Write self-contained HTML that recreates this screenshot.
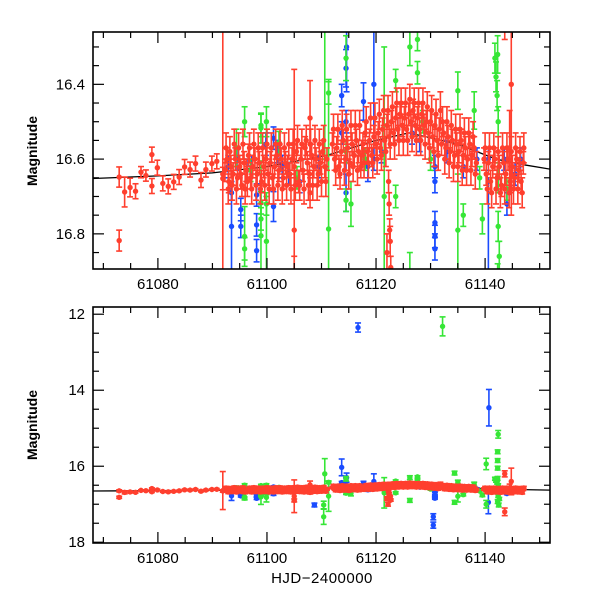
<!DOCTYPE html>
<html><head><meta charset="utf-8"><style>
body{margin:0;background:#fff}
svg{display:block}
text{font-family:"Liberation Sans",sans-serif;fill:#000}
</style></head><body>
<svg id="chart" width="600" height="600" viewBox="0 0 600 600" xmlns="http://www.w3.org/2000/svg">
<defs>
<clipPath id="clipTop"><rect x="93" y="32" width="457" height="237"/></clipPath>
<clipPath id="clipBot"><rect x="93" y="307" width="457" height="236"/></clipPath>
</defs>
<g id="topPanel"></g>
<g id="botPanel"></g>
<text x="0" y="0" font-size="14" font-weight="bold" text-anchor="middle" transform="translate(37,151) rotate(-90)">Magnitude</text>
<text x="0" y="0" font-size="14" font-weight="bold" text-anchor="middle" transform="translate(37,425) rotate(-90)">Magnitude</text>
<text x="322" y="583" font-size="15" text-anchor="middle" letter-spacing="0.5">HJD−2400000</text>
</svg>
<script>
// ---- data: [time, magnitude, error] ----
const redData = [
[61072.9,16.648,.027],[61072.9,16.818,.028],[61073.9,16.688,.04],[61074.9,16.676,.025],[61075.9,16.686,.02],
[61076.9,16.635,.015],[61077.8,16.644,.015],[61078.9,16.588,.02],[61078.9,16.672,.02],[61079.9,16.623,.02],
[61080.9,16.665,.02],[61081.9,16.673,.02],[61082.9,16.661,.02],[61083.9,16.648,.02],[61084.9,16.621,.02],
[61085.9,16.628,.02],[61086.9,16.612,.02],[61087.9,16.656,.02],[61088.8,16.628,.02],[61089.9,16.612,.02],
[61090.8,16.606,.02],[61091.9,16.64,.5],[61091.9,16.652,.03],
[61092.3,16.63,.03],[61092.7,16.60,.03],[61093.0,16.66,.03],[61093.4,16.62,.03],[61093.8,16.64,.03],
[61094.2,16.60,.03],[61094.6,16.65,.03],[61095.0,16.62,.03],[61095.4,16.67,.03],[61095.8,16.61,.03],
[61096.2,16.63,.03],[61096.6,16.59,.03],[61097.0,16.65,.03],[61097.4,16.62,.03],[61097.8,16.60,.03],
[61098.2,16.64,.03],[61098.6,16.61,.03],[61099.0,16.66,.03],[61099.4,16.62,.03],[61099.8,16.60,.03],
[61100.2,16.64,.03],[61100.6,16.61,.03],[61101.0,16.65,.03],[61101.4,16.62,.03],[61101.8,16.59,.03],
[61102.2,16.63,.03],[61102.6,16.60,.03],[61103.0,16.65,.03],[61103.4,16.61,.03],[61103.8,16.62,.03],
[61104.2,16.64,.03],[61104.6,16.60,.03],[61105.0,16.79,.43],[61105.0,16.90,.04],[61105.0,16.62,.03],
[61105.4,16.58,.03],[61105.8,16.66,.03],[61106.2,16.60,.03],[61106.6,16.63,.03],[61107.0,16.57,.03],
[61107.4,16.61,.03],[61107.8,16.64,.03],[61107.9,16.49,.1],[61107.9,16.56,.04],[61107.9,16.69,.04],
[61108.2,16.59,.03],[61108.6,16.62,.03],[61109.0,16.60,.03],[61109.4,16.64,.03],[61109.8,16.61,.03],
[61110.2,16.58,.03],[61110.6,16.62,.03],[61111.0,16.60,.03],
[61112.0,16.56,.03],[61112.4,16.60,.03],[61112.8,16.57,.03],[61113.2,16.62,.03],[61113.6,16.58,.03],
[61114.0,16.55,.03],[61114.4,16.60,.03],[61114.8,16.57,.03],[61115.2,16.61,.03],[61115.6,16.56,.03],
[61116.0,16.59,.03],[61116.4,16.55,.03],[61116.8,16.58,.03],[61117.2,16.62,.03],[61117.6,16.56,.03],
[61118.0,16.53,.03],[61118.4,16.58,.03],[61118.8,16.55,.03],[61119.2,16.59,.03],[61119.6,16.54,.03],
[61120.0,16.56,.03],[61120.4,16.53,.03],[61120.8,16.57,.03],[61121.2,16.52,.03],[61121.6,16.55,.03],
[61122.0,16.51,.03],[61122.3,16.66,.03],[61122.4,16.72,.03],[61122.5,16.79,.03],[61122.6,16.82,.04],
[61122.7,16.89,.03],[61122.0,16.85,.05],[61122.2,17.0,.05],[61122.4,16.54,.03],
[61122.8,16.50,.03],[61123.2,16.53,.03],[61123.6,16.49,.03],[61124.0,16.52,.03],[61124.4,16.48,.03],
[61124.8,16.51,.03],[61125.2,16.49,.03],[61125.6,16.52,.03],[61126.0,16.48,.03],[61126.4,16.50,.03],
[61126.8,16.47,.03],[61127.2,16.51,.03],[61127.6,16.49,.03],[61128.0,16.52,.03],[61128.4,16.48,.03],
[61128.8,16.51,.03],[61129.2,16.50,.03],[61129.6,16.53,.03],[61130.0,16.50,.03],[61130.4,16.54,.03],
[61130.8,16.51,.03],[61131.2,16.55,.03],[61131.6,16.52,.03],[61131.8,16.47,.05],[61132.0,16.56,.03],
[61132.4,16.53,.03],[61132.8,16.57,.03],[61133.2,16.54,.03],[61133.6,16.58,.03],[61134.0,16.55,.03],
[61134.4,16.59,.03],[61134.8,16.56,.03],[61135.2,16.58,.03],[61135.6,16.55,.03],[61136.0,16.59,.03],
[61136.4,16.57,.03],[61136.8,16.60,.03],[61137.2,16.56,.03],[61137.6,16.59,.03],[61138.0,16.57,.03],
[61138.4,16.61,.03],[61139.8,16.60,.03],[61140.2,16.64,.03],[61140.6,16.61,.03],[61141.0,16.66,.03],
[61141.4,16.62,.03],[61141.8,16.60,.03],[61142.2,16.65,.03],[61142.6,16.62,.03],[61143.0,16.67,.03],
[61143.4,16.61,.03],[61143.6,16.2,.08],[61143.6,17.2,.1],[61143.8,16.64,.03],[61144.2,16.60,.03],
[61144.5,16.57,.1],[61144.6,16.66,.03],[61144.8,16.40,.35],[61145.0,16.62,.03],[61145.4,16.65,.03],
[61145.8,16.60,.03],[61146.2,16.63,.03],[61146.6,16.66,.03],[61147.0,16.61,.03]
];
// additional dense red measurements filling the band
const redExtra = [
[61092.5,16.57,.04],[61092.9,16.68,.04],[61093.2,16.58,.04],[61093.6,16.67,.04],[61094.0,16.56,.04],
[61094.4,16.68,.04],[61094.8,16.57,.04],[61095.2,16.64,.04],[61095.6,16.56,.04],[61096.0,16.68,.04],
[61096.4,16.66,.04],[61096.8,16.57,.04],[61097.2,16.68,.04],[61097.6,16.56,.04],[61098.0,16.67,.04],
[61098.4,16.57,.04],[61098.8,16.68,.04],[61099.2,16.57,.04],[61099.6,16.67,.04],[61100.0,16.56,.04],
[61100.4,16.68,.04],[61100.8,16.57,.04],[61101.2,16.68,.04],[61101.6,16.56,.04],[61102.0,16.67,.04],
[61102.4,16.56,.04],[61102.8,16.68,.04],[61103.2,16.57,.04],[61103.6,16.67,.04],[61104.0,16.56,.04],
[61104.4,16.68,.04],[61104.8,16.56,.04],[61105.2,16.67,.04],[61105.6,16.55,.04],[61106.0,16.67,.04],
[61106.4,16.56,.04],[61106.8,16.68,.04],[61107.2,16.55,.04],[61107.6,16.67,.04],[61108.0,16.56,.04],
[61108.4,16.67,.04],[61108.8,16.55,.04],[61109.2,16.67,.04],[61109.6,16.56,.04],[61110.0,16.66,.04],
[61110.4,16.55,.04],[61110.8,16.66,.04],
[61112.2,16.52,.04],[61112.6,16.63,.04],[61113.0,16.52,.04],[61113.4,16.64,.04],[61113.8,16.51,.04],
[61114.2,16.63,.04],[61114.6,16.52,.04],[61115.0,16.64,.04],[61115.4,16.51,.04],[61115.8,16.62,.04],
[61116.2,16.51,.04],[61116.6,16.63,.04],[61117.0,16.51,.04],[61117.4,16.59,.04],[61117.8,16.61,.04],
[61118.2,16.50,.04],[61118.6,16.61,.04],[61119.0,16.49,.04],[61119.4,16.61,.04],[61119.8,16.49,.04],
[61120.2,16.60,.04],[61120.6,16.48,.04],[61121.0,16.59,.04],[61121.4,16.47,.04],[61121.8,16.58,.04],
[61122.2,16.47,.04],[61122.6,16.56,.04],[61123.0,16.46,.04],[61123.4,16.56,.04],[61123.8,16.45,.04],
[61124.2,16.55,.04],[61124.6,16.45,.04],[61125.0,16.55,.04],[61125.4,16.45,.04],[61125.8,16.55,.04],
[61126.2,16.44,.04],[61126.6,16.54,.04],[61127.0,16.45,.04],[61127.4,16.55,.04],[61127.8,16.45,.04],
[61128.2,16.55,.04],[61128.6,16.45,.04],[61129.0,16.56,.04],[61129.4,16.46,.04],[61129.8,16.57,.04],
[61130.2,16.47,.04],[61130.6,16.58,.04],[61131.0,16.48,.04],[61131.4,16.59,.04],[61132.2,16.50,.04],
[61132.6,16.60,.04],[61133.0,16.50,.04],[61133.4,16.61,.04],[61133.8,16.51,.04],[61134.2,16.62,.04],
[61134.6,16.52,.04],[61135.0,16.62,.04],[61135.4,16.52,.04],[61135.8,16.63,.04],[61136.2,16.53,.04],
[61136.6,16.63,.04],[61137.0,16.53,.04],[61137.4,16.63,.04],[61137.8,16.54,.04],[61138.2,16.64,.04],
[61140.0,16.57,.04],[61140.4,16.68,.04],[61140.8,16.57,.04],[61141.2,16.69,.04],[61141.6,16.57,.04],
[61142.0,16.68,.04],[61142.4,16.58,.04],[61142.8,16.69,.04],[61143.2,16.57,.04],[61143.6,16.68,.04],
[61144.0,16.57,.04],[61144.4,16.69,.04],[61144.8,16.58,.04],[61145.2,16.68,.04],[61145.6,16.57,.04],
[61146.0,16.68,.04],[61146.4,16.58,.04],[61146.8,16.69,.04],[61147.1,16.57,.04]
];
const blueData = [
[61092.9,16.62,.03],[61093.5,16.69,.02],[61093.5,16.78,.12],[61094.5,16.60,.03],[61095.2,16.735,.03],
[61095.2,16.78,.03],[61096.3,16.63,.03],[61097.2,16.62,.03],[61098.1,16.696,.03],[61098.1,16.776,.03],
[61098.1,16.845,.03],[61099.8,16.56,.03],[61101.2,16.544,.03],[61101.2,16.727,.04],[61102.0,16.58,.03],
[61102.8,16.62,.03],[61104.0,16.64,.03],[61106.0,16.66,.03],[61108.7,17.02,.05],[61109.5,16.62,.03],
[61113.7,16.43,.03],[61113.7,16.53,.03],[61113.7,16.03,.22],[61114.5,16.357,.05],[61114.5,16.5,.03],
[61114.5,16.6,.03],[61114.5,16.69,.05],[61114.6,16.3,.12],[61116.7,12.35,.12],[61117.7,16.446,.05],
[61118.5,16.62,.04],[61119.6,16.40,.2],[61119.6,16.6,.03],[61121.0,16.58,.03],[61124.0,16.52,.03],
[61126.6,16.53,.03],[61128.0,16.55,.03],[61130.5,17.33,.08],[61130.5,17.55,.08],[61130.8,16.62,.03],
[61130.8,16.66,.03],[61130.8,16.77,.03],[61130.8,16.807,.03],[61130.8,16.84,.03],[61133.0,16.58,.03],
[61136.0,16.62,.03],[61138.5,16.60,.03],[61140.6,16.95,.3],[61140.7,14.46,.48],[61140.6,16.6,.03],
[61143.5,16.6,.03],[61144.0,16.72,.03],[61145.5,16.64,.03],[61146.5,16.6,.03]
];
const greenData = [
[61094.4,16.57,.05],[61095.9,16.807,.08],[61095.9,16.84,.03],[61095.9,16.50,.04],[61097.0,16.63,.03],
[61098.9,16.517,.04],[61098.9,16.51,.03],[61098.9,16.717,.03],[61098.9,16.76,.03],[61098.9,16.805,.2],
[61099.9,16.50,.04],[61099.9,16.82,.12],[61099.9,16.72,.03],[61102.2,16.556,.03],[61105.5,16.65,.03],
[61110.4,17.02,.1],[61110.4,17.33,.2],[61110.6,16.2,.4],[61111.3,16.423,.03],[61111.3,16.787,.4],
[61114.5,16.33,.06],[61114.5,16.58,.03],[61114.5,16.71,.03],[61115.4,16.72,.06],[61118.0,16.6,.03],
[61121.5,16.70,.4],[61123.6,16.39,.03],[61123.6,16.70,.03],[61126.2,16.9,.05],[61126.2,16.3,.05],
[61127.6,16.28,.03],[61127.6,16.369,.03],[61128.6,16.5,.03],[61130.0,16.6,.03],[61132.2,12.32,.25],
[61134.4,16.18,.05],[61134.4,16.95,.05],[61135.0,16.417,.05],[61135.0,16.79,.15],[61136.0,16.75,.03],
[61138.0,16.47,.05],[61139.0,16.65,.03],[61139.5,16.76,.04],[61140.2,15.94,.15],[61140.2,17.0,.1],
[61141.8,16.33,.04],[61142.0,16.38,.04],[61142.2,16.43,.04],[61142.4,16.5,.04],[61142.4,16.65,.04],
[61142.4,16.78,.04],[61142.6,16.86,.04],[61142.4,15.16,.1],[61142.3,15.62,.05],[61142.3,15.85,.05],
[61142.3,16.05,.05],[61142.3,16.32,.05],[61142.3,16.93,.05],[61142.5,17.02,.05],[61144.0,16.68,.03]
];
const trendT = [61068,61080,61090,61100,61111,61120,61126,61135,61142,61147,61152];
const trendM = [16.652,16.645,16.637,16.62,16.59,16.55,16.53,16.56,16.60,16.615,16.627];
const xTickLabels = ["61080","61100","61120","61140"];
const topYTickLabels = ["16.4","16.6","16.8"];
const botYTickLabels = ["12","14","16","18"];

const NS="http://www.w3.org/2000/svg";
const X0=93,X1=550,T0=61068.1,T1=61151.9;
function xs(t){return X0+(t-T0)/(T1-T0)*(X1-X0);}
function mk(tag,attrs,parent){const e=document.createElementNS(NS,tag);for(const k in attrs)e.setAttribute(k,attrs[k]);parent.appendChild(e);return e;}

function panel(g,clipId,Y0,Y1,M0,M1,yMajor,yMinor,yLabels,name){
  const ys=m=>Y0+(m-M0)/(M1-M0)*(Y1-Y0);
  const dg=mk('g',{'clip-path':'url(#'+clipId+')'},g);
  
  
  let d='';trendT.forEach((t,i)=>{d+=(i?'L':'M')+xs(t).toFixed(1)+' '+ys(trendM[i]).toFixed(1);});
  const tl=mk('path',{d:d,fill:'none',stroke:'#000','stroke-width':1.3},dg);
  
  
  const series=[[blueData,'#1a4cff','blue'],[greenData,'#36e636','green'],[redExtra,'#ff3f2e','red-extra'],[redData,'#ff3f2e','red']];
  series.forEach(([arr,col,sn])=>{
    const sg=mk('g',{stroke:col,fill:col,'stroke-width':1.6},dg);
    
    
    arr.forEach(p=>{
      const x=xs(p[0]),y=ys(p[1]),ya=ys(p[1]-p[2]),yb=ys(p[1]+p[2]);
      const pg=mk('g',{},sg);
      
      
      mk('line',{x1:x,x2:x,y1:ya,y2:yb},pg);
      mk('line',{x1:x-3,x2:x+3,y1:ya,y2:ya},pg);
      mk('line',{x1:x-3,x2:x+3,y1:yb,y2:yb},pg);
      mk('circle',{cx:x,cy:y,r:2.7,stroke:'none'},pg);
    });
  });
  const fr=mk('rect',{x:X0,y:Y0,width:X1-X0,height:Y1-Y0,fill:'none',stroke:'#000','stroke-width':1.6},g);
  
  
  const tg=mk('g',{stroke:'#000','stroke-width':1.2},g);
  
  
  for(let t=61070;t<=61150;t+=5){
    const x=xs(t),L=(t%20===0)?11:6;
    mk('line',{x1:x,x2:x,y1:Y1,y2:Y1-L},tg);mk('line',{x1:x,x2:x,y1:Y0,y2:Y0+L},tg);
  }
  const start=Math.ceil(Math.min(M0,M1)/yMinor-1e-6)*yMinor;
  for(let m=start;m<=Math.max(M0,M1)+1e-6;m+=yMinor){
    const y=ys(m),maj=Math.abs(m/yMajor-Math.round(m/yMajor))<1e-4,L=maj?11:6;
    mk('line',{x1:X0,x2:X0+L,y1:y,y2:y},tg);mk('line',{x1:X1,x2:X1-L,y1:y,y2:y},tg);
  }
  yLabels.forEach(s=>{
    const tx=mk('text',{x:X0-8,y:ys(parseFloat(s))+5,'font-size':15,'text-anchor':'end'},g);
    tx.textContent=s;
    
    
  });
  xTickLabels.forEach(s=>{
    const tx=mk('text',{x:xs(parseFloat(s)),y:Y1+20,'font-size':15,'text-anchor':'middle'},g);
    tx.textContent=s;
    
    
  });
}
panel(document.getElementById('topPanel'),'clipTop',32,269,16.26,16.894,0.2,0.05,topYTickLabels,'top');
panel(document.getElementById('botPanel'),'clipBot',307,543,11.81,18.02,2,0.5,botYTickLabels,'bottom');
</script>
</body></html>
